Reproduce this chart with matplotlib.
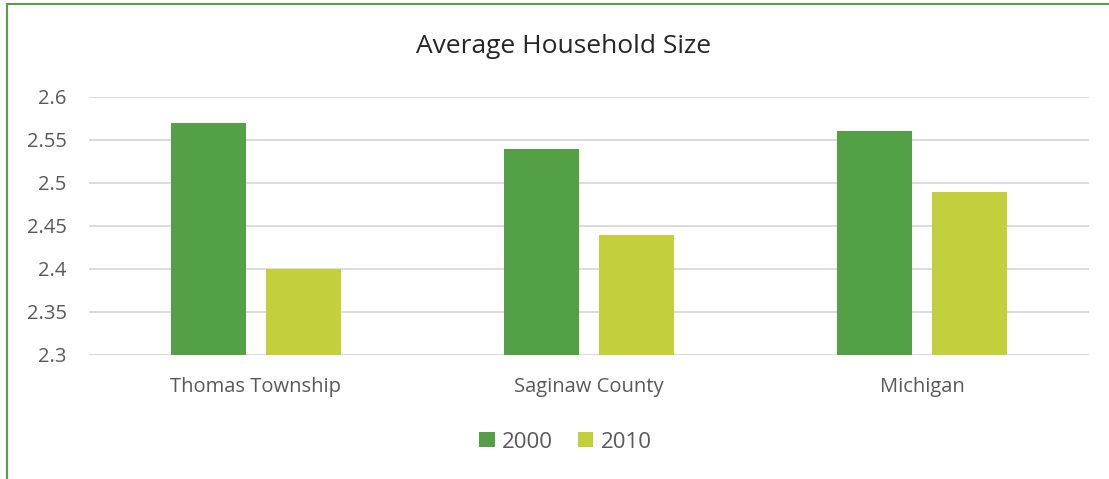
import numpy as np
import matplotlib.pyplot as plt
from matplotlib.lines import Line2D

categories = ["Thomas Township", "Saginaw County", "Michigan"]
years = ["2000", "2010"]
values_2000 = [2.57, 2.54, 2.56]
values_2010 = [2.40, 2.44, 2.49]
yticks = [2.3, 2.35, 2.4, 2.45, 2.5, 2.55, 2.6]
ytick_labels = ["2.3", "2.35", "2.4", "2.45", "2.5", "2.55", "2.6"]

c2000 = "#53A046"
c2010 = "#C2D03B"
grey = "#595959"

plt.rcParams['font.family'] = ['Open Sans', 'DejaVu Sans']

fig = plt.figure(figsize=(11.09, 4.79), dpi=100)
ax = fig.add_axes([0.0803, 0.2589, 0.9017, 0.5386])

x = np.arange(len(categories))
w = 0.225
off = 0.1425
ax.bar(x - off, np.array(values_2000) - 2.3, w, bottom=2.3, color=c2000, label=years[0], zorder=3)
ax.bar(x + off, np.array(values_2010) - 2.3, w, bottom=2.3, color=c2010, label=years[1], zorder=3)

ax.set_xlim(-0.5, 2.5)
ax.set_ylim(2.3, 2.6)
ax.set_yticks(yticks)
ax.set_yticklabels(ytick_labels)
ax.set_xticks(x)
ax.set_xticklabels(categories)
ax.tick_params(axis='both', length=0, labelsize=14.5, colors=grey)
ax.tick_params(axis='x', pad=16)
ax.tick_params(axis='y', pad=16)
ax.grid(axis='y', color='#D9D9D9', linewidth=1.3, zorder=0)
for s in ax.spines.values():
    s.set_visible(False)

fig.text(0.508, 0.902, "Average Household Size", ha='center', va='center',
         fontsize=19, color='#262626')

leg = fig.legend(loc='center', bbox_to_anchor=(0.51, 0.077), ncol=2, frameon=False,
                 fontsize=16, handlelength=0.68, handleheight=0.68, handletextpad=0.35,
                 columnspacing=1.1)
for t in leg.get_texts():
    t.set_color(grey)

# green chart border (left and top visible)
fig.add_artist(Line2D([7 / 1109, 7 / 1109], [0, 1 - 4 / 479], transform=fig.transFigure,
                      color=c2000, linewidth=1.5))
fig.add_artist(Line2D([7 / 1109, 1], [1 - 4 / 479, 1 - 4 / 479], transform=fig.transFigure,
                      color=c2000, linewidth=1.5))

fig.savefig("out.png", dpi=100)
